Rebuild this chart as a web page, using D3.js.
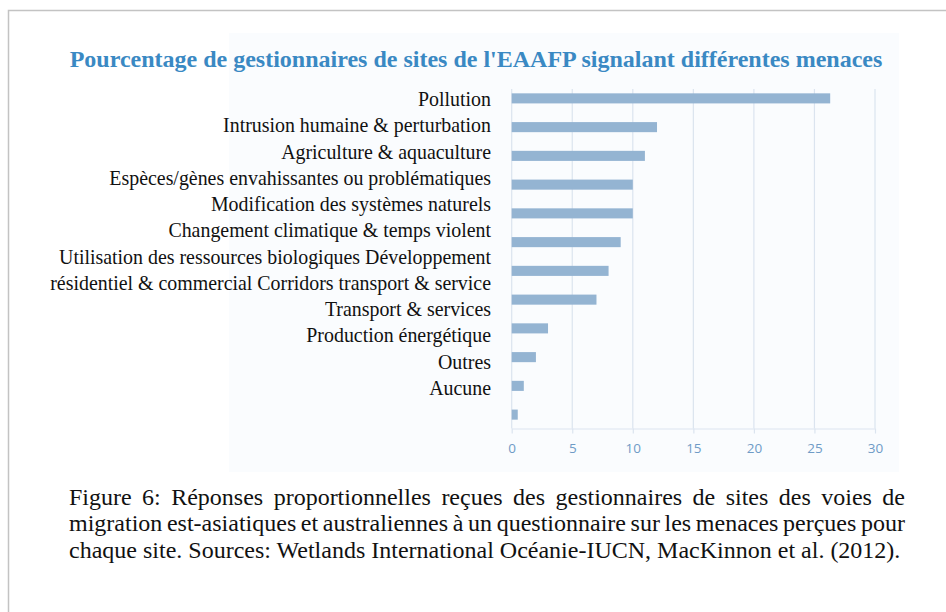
<!DOCTYPE html>
<html lang="fr">
<head>
<meta charset="utf-8">
<title>Menaces signalées - EAAFP</title>
<script src="https://cdn.jsdelivr.net/npm/d3@7"></script>
<style>
  body { margin: 0; background: #fff; }
  #wrap { position: relative; width: 946px; height: 612px; overflow: hidden; }
  svg { position: absolute; left: 0; top: 0; }
  #caption {
    position: absolute; left: 69px; top: 484px; width: 836px;
    font-family: "Liberation Serif", "Times New Roman", serif;
    font-size: 24px; line-height: 26.3px; color: #111;
  }
  #caption div { white-space: nowrap; }
</style>
</head>
<body>
<div id="wrap"><div id="caption"></div></div>
<script>

// data
var threats = ["Pollution", "Intrusion", "Agriculture", "Especes", "Modification", "Changement",
               "Utilisation", "Residentiel", "Transport", "Production", "Outres", "Aucune"];
var percents = [26.3, 12, 11, 10, 10, 9, 8, 7, 3, 2, 1, 0.5];
// the category labels as printed (they don't line up exactly with the bars in the original)
var labels = ["Pollution",
              "Intrusion humaine & perturbation",
              "Agriculture & aquaculture",
              "Espèces/gènes envahissantes ou problématiques",
              "Modification des systèmes naturels",
              "Changement climatique & temps violent",
              "Utilisation des ressources biologiques Développement",
              "résidentiel & commercial Corridors transport & service",
              "Transport & services",
              "Production énergétique",
              "Outres",
              "Aucune"];
var xTicks = [0, 5, 10, 15, 20, 25, 30];
var title = "Pourcentage de gestionnaires de sites de l'EAAFP signalant différentes menaces";
var captionLines = ["Figure 6: Réponses proportionnelles reçues des gestionnaires de sites des voies de",
                    "migration est-asiatiques et australiennes à un questionnaire sur les menaces perçues pour",
                    "chaque site. Sources: Wetlands International Océanie-IUCN, MacKinnon et al. (2012)."];

var w = 946, h = 612;
var captionWidth = 836;
var barColor = "#94b4d2";
var gridColor = "#dbe4ef";
var tickColor = "#6f9bc6";
var serif = "'Liberation Serif', 'Times New Roman', serif";

var svg = d3.select("#wrap").insert("svg", "#caption")
            .attr("width", w)
            .attr("height", h);

// page border (only top and left show in the crop)
svg.append("path")
   .attr("d", "M8.5,612 V10.5 H946")
   .attr("fill", "none")
   .attr("stroke", "#c3c3c3")
   .attr("stroke-width", 1.5);

// faint background of the pasted chart image
svg.append("rect")
   .attr("x", 229).attr("y", 33)
   .attr("width", 670).attr("height", 439)
   .attr("fill", "#fafcfe");

// title
svg.append("text")
   .attr("x", 476)
   .attr("y", 67)
   .attr("text-anchor", "middle")
   .attr("font-family", serif)
   .attr("font-weight", "bold")
   .attr("font-size", "24px")
   .attr("fill", "#3a89c3")
   .text(title);

//Scales
var xScale = d3.scaleLinear()
               .domain([0, 30])
               .range([511.7, 875]);

var yScale = d3.scaleBand()
               .domain(threats)
               .range([84, 429])
               .paddingInner(0.65)
               .paddingOuter(0.325);

var labelScale = d3.scalePoint()
                   .domain(labels)
                   .range([106, 395]);

var plotTop = 89, axisY = 428.5;

//Grid lines
svg.append("g")
   .selectAll("line")
   .data(xTicks)
   .enter()
   .append("line")
   .attr("x1", function(d) { return xScale(d); })
   .attr("x2", function(d) { return xScale(d); })
   .attr("y1", plotTop)
   .attr("y2", axisY)
   .attr("stroke", gridColor)
   .attr("stroke-width", 1.2);

//Bars
svg.append("g")
   .selectAll("rect")
   .data(percents)
   .enter()
   .append("rect")
   .attr("x", xScale(0))
   .attr("y", function(d, i) { return yScale(threats[i]); })
   .attr("width", function(d) { return xScale(d) - xScale(0); })
   .attr("height", yScale.bandwidth())
   .attr("fill", barColor);

//x axis
var xAxis = d3.axisBottom(xScale)
              .tickValues(xTicks)
              .tickSize(5)
              .tickSizeOuter(0)
              .tickPadding(10);

var gx = svg.append("g")
            .attr("transform", "translate(0," + axisY + ")")
            .call(xAxis);
gx.select(".domain").attr("stroke", gridColor).attr("stroke-width", 1.2);
gx.selectAll(".tick line").attr("stroke", gridColor).attr("stroke-width", 1.2);
gx.selectAll(".tick text")
  .attr("fill", tickColor)
  .attr("font-family", "'Open Sans', 'Liberation Sans', sans-serif")
  .attr("font-size", "13.5px");

//Category labels
svg.append("g")
   .selectAll("text")
   .data(labels)
   .enter()
   .append("text")
   .attr("x", 491)
   .attr("y", function(d) { return labelScale(d); })
   .attr("text-anchor", "end")
   .attr("font-family", serif)
   .attr("font-size", "19.9px")
   .attr("fill", "#111")
   .text(function(d) { return d; });

//Caption - justify all but the last line by stretching/squeezing word gaps
d3.select("#caption")
  .selectAll("div")
  .data(captionLines)
  .enter()
  .append("div")
  .append("span")
  .text(function(d) { return d; })
  .each(function(d, i) {
      if (i == captionLines.length - 1) return;
      var natural = this.getBoundingClientRect().width;
      var gaps = d.split(" ").length - 1;
      d3.select(this).style("word-spacing", ((captionWidth - natural) / gaps) + "px");
  });

</script>
</body>
</html>
